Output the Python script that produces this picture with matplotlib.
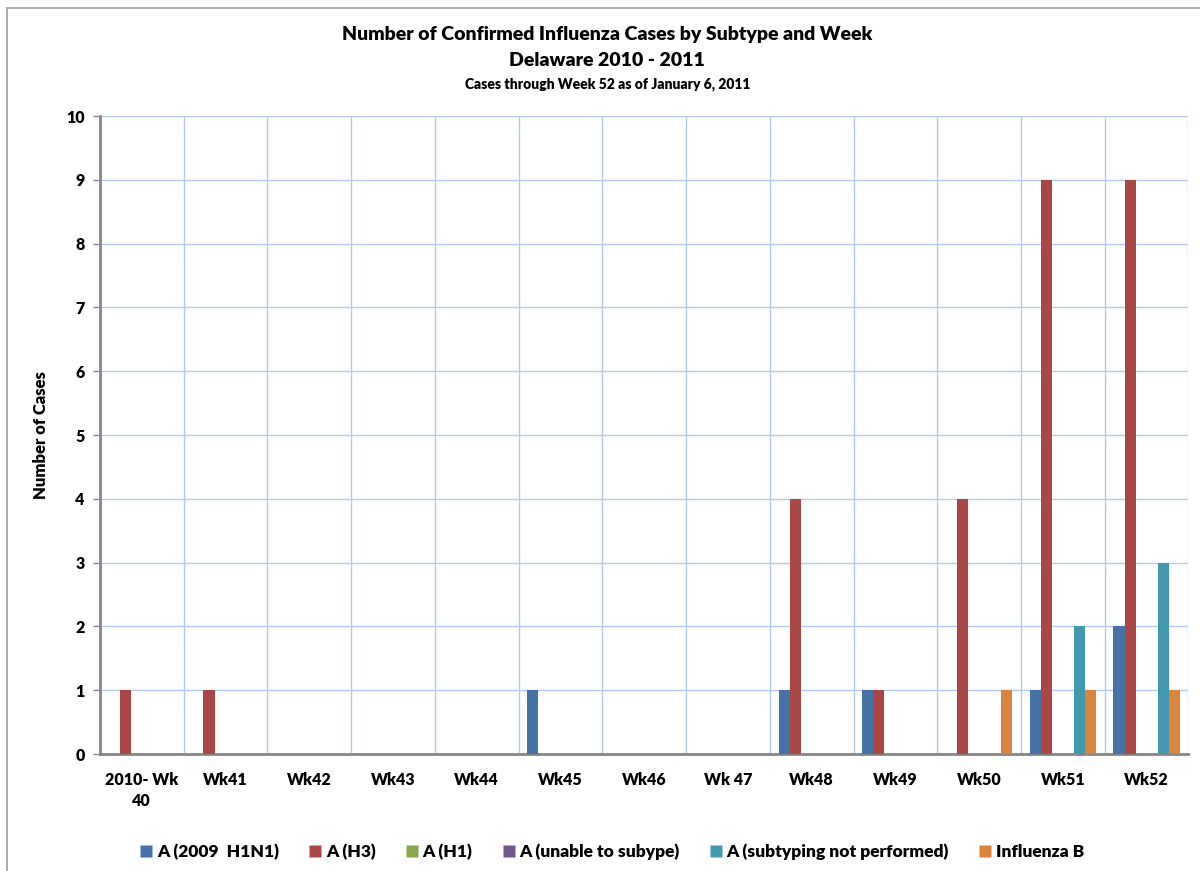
import matplotlib.pyplot as plt
import numpy as np
from matplotlib.lines import Line2D

# data
weeks = ['2010- Wk\n40', 'Wk41', 'Wk42', 'Wk43', 'Wk44', 'Wk45', 'Wk46',
         'Wk 47', 'Wk48', 'Wk49', 'Wk50', 'Wk51', 'Wk52']
series_names = ['A (2009  H1N1)', 'A (H3)', 'A (H1)', 'A (unable to subype)',
                'A (subtyping not performed)', 'Influenza B']
h1n1_2009 = [0, 0, 0, 0, 0, 1, 0, 0, 1, 1, 0, 1, 2]
h3 = [1, 1, 0, 0, 0, 0, 0, 0, 4, 1, 4, 9, 9]
h1 = [0, 0, 0, 0, 0, 0, 0, 0, 0, 0, 0, 0, 0]
unable = [0, 0, 0, 0, 0, 0, 0, 0, 0, 0, 0, 0, 0]
not_performed = [0, 0, 0, 0, 0, 0, 0, 0, 0, 0, 0, 2, 3]
flu_b = [0, 0, 0, 0, 0, 0, 0, 0, 0, 0, 1, 1, 1]

colors = ['#4572A7', '#AA4643', '#89A54E', '#71588F', '#4198AF', '#DB843D']
grid_color = '#B3CAEE'
axis_color = '#868686'

plt.rcParams['font.family'] = ['Lato', 'DejaVu Sans']
plt.rcParams['font.weight'] = 'bold'

fig = plt.figure(figsize=(12, 8.71), dpi=100)
ax = fig.add_axes([0.0833, 0.1343, 0.9071, 0.7325])

all_series = [h1n1_2009, h3, h1, unable, not_performed, flu_b]
x = np.arange(len(weeks))
bar_w = 0.132
for i, (vals, col) in enumerate(zip(all_series, colors)):
    offs = (i - 2.5) * bar_w
    ax.bar(x + offs, vals, width=bar_w, color=col, edgecolor='none', zorder=3)

ax.set_xlim(-0.5, len(weeks) - 0.5)
ax.set_ylim(0, 10)
ax.set_yticks(range(0, 11))

# gridlines: horizontal at integers, vertical at category boundaries
for yv in range(1, 11):
    ax.axhline(yv, color=grid_color, lw=1.0, zorder=1)
for b in np.arange(0.5, len(weeks) - 0.5 + 0.01, 1.0):
    ax.axvline(b, color=grid_color, lw=1.0, zorder=1)

ax.set_xticks(x)
ax.set_xticklabels(weeks, fontsize=11.5, fontweight='heavy', linespacing=1.35)
ax.tick_params(axis='x', length=0, pad=13)
ax.tick_params(axis='y', length=5, width=1, color=axis_color, labelsize=11.5, pad=6)
for lab in ax.get_yticklabels():
    lab.set_fontweight('heavy')

for side in ['top', 'right']:
    ax.spines[side].set_visible(False)
for side in ['left', 'bottom']:
    ax.spines[side].set_color(axis_color)
    ax.spines[side].set_linewidth(2)

ax.set_ylabel('Number of Cases', fontsize=12, fontweight='heavy', labelpad=12)

# titles
fig.text(0.506, 0.960, 'Number of Confirmed Influenza Cases by Subtype and Week',
         ha='center', va='center', fontsize=14, fontweight='heavy')
fig.text(0.506, 0.931, 'Delaware 2010 - 2011',
         ha='center', va='center', fontsize=14, fontweight='heavy')
fig.text(0.506, 0.903, 'Cases through Week 52 as of January 6, 2011',
         ha='center', va='center', fontsize=10, fontweight='heavy')

# legend
handles = [Line2D([], [], marker='s', linestyle='none', markersize=9,
                  markerfacecolor=c, markeredgecolor='none') for c in colors]
leg = fig.legend(handles, series_names, loc='center', bbox_to_anchor=(0.509, 0.022),
                 ncol=6, frameon=False, fontsize=12.5, handletextpad=0.1,
                 columnspacing=1.6, handlelength=1.0)
for t in leg.get_texts():
    t.set_fontweight('heavy')

# outer chart border
fig.add_artist(Line2D([0.006, 0.006], [0.0, 0.991], color='#A0A0A0', lw=1.2,
                      transform=fig.transFigure))
fig.add_artist(Line2D([0.006, 1.0], [0.991, 0.991], color='#A0A0A0', lw=1.2,
                      transform=fig.transFigure))

fig.savefig('out.png', dpi=100)
